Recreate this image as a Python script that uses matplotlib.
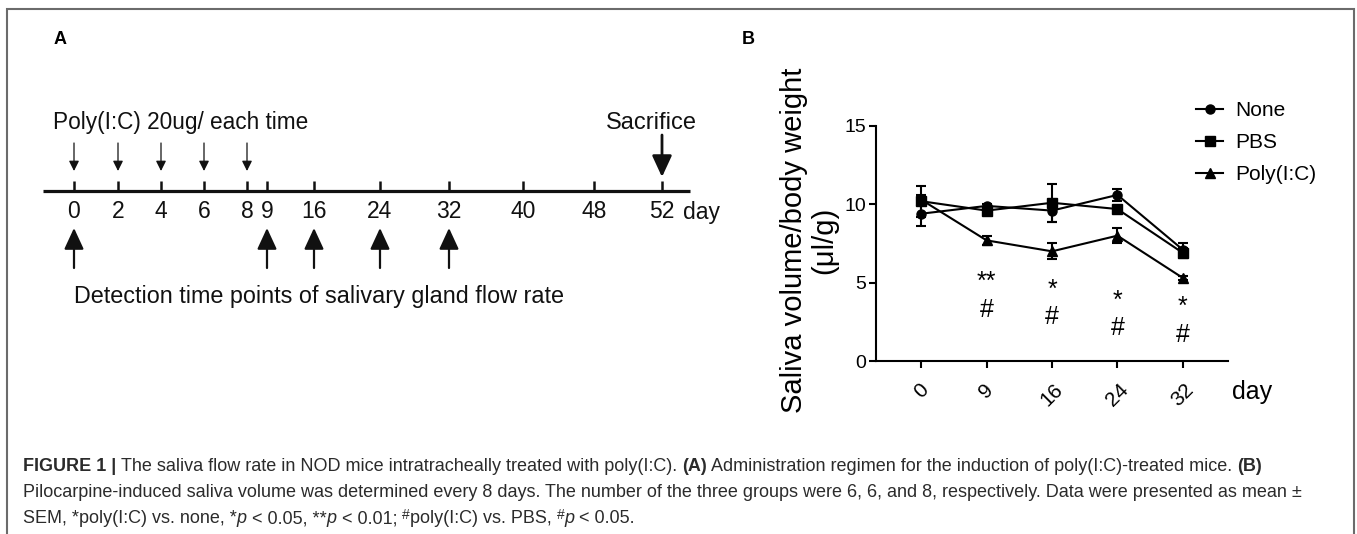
"""Figure 1: poly(I:C) regimen timeline (A) and saliva flow per body weight (B)."""
import numpy as np
import matplotlib
matplotlib.use('Agg')
import matplotlib.pyplot as plt

plt.rcParams.update({'font.family': ['Liberation Sans', 'DejaVu Sans'], 'figure.dpi': 100,
                     'axes.spines.top': False, 'axes.spines.right': False})
W, H = 1357, 534

# ---- panel A: schedule ----
timeline_days = [0, 2, 4, 6, 8, 9, 16, 24, 32, 40, 48, 52]
injection_days = [0, 2, 4, 6, 8]
detection_days = [0, 9, 16, 24, 32]
sacrifice_day = 52
# schematic (not to scale) horizontal placement of each day on the drawn timeline
timeline_x = [74, 118, 161, 204, 247, 267, 314, 380, 449, 523, 594, 662]

# ---- panel B: saliva volume / body weight (ul/g), mean +- SEM ----
days = ['0', '9', '16', '24', '32']
none_mean = [9.4, 9.9, 9.6, 10.6, 7.1]
none_sem = [0.8, 0.15, 0.7, 0.4, 0.4]
pbs_mean = [10.2, 9.6, 10.1, 9.7, 6.9]
pbs_sem = [1.0, 0.2, 1.2, 0.2, 0.3]
polyic_mean = [10.3, 7.7, 7.0, 8.0, 5.3]
polyic_sem = [0.3, 0.3, 0.5, 0.5, 0.15]
sig_idx = [1, 2, 3, 4]
sig_star = ['**', '*', '*', '*']   # poly(I:C) vs none
hash_y = [3.4, 2.9, 2.2, 1.8]      # '#' (poly(I:C) vs PBS) sits under the stars

fig = plt.figure(figsize=(W / 100, H / 100), dpi=100)
ov = fig.add_axes([0, 0, 1, 1])
ov.set_xlim(0, W); ov.set_ylim(H, 0); ov.axis('off')

# outer frame
ov.plot([7, 7, 1354, 1354], [H, 9, 9, H], color='#6b6b6b', lw=1.5, solid_joinstyle='miter')

# panel letters
ov.text(60, 39, 'A', fontsize=13, fontweight='bold', ha='center', va='center')
ov.text(748, 39, 'B', fontsize=13, fontweight='bold', ha='center', va='center')

# timeline
INK = '#111111'
xmap = dict(zip(timeline_days, timeline_x))
ov.plot([43, 690], [191, 191], color=INK, lw=2.3, solid_capstyle='butt')
for d in timeline_days:
    ov.plot([xmap[d], xmap[d]], [181, 191], color=INK, lw=1.8, solid_capstyle='butt')
    ov.text(xmap[d], 212, str(d), fontsize=16.5, ha='center', va='center', color=INK)
ov.text(683, 212, 'day', fontsize=16.5, ha='left', va='center', color=INK)

for d in injection_days:
    ov.annotate('', xy=(xmap[d], 171), xytext=(xmap[d], 143),
                arrowprops=dict(arrowstyle='-|>,head_length=0.6,head_width=0.3', lw=0.9,
                                color=INK, shrinkA=0, shrinkB=0, mutation_scale=10))
ov.text(53, 123, 'Poly(I:C) 20ug/ each time', fontsize=16.3, ha='left', va='center', color=INK)

ov.annotate('', xy=(xmap[sacrifice_day], 177), xytext=(xmap[sacrifice_day], 135),
            arrowprops=dict(arrowstyle='-|>,head_length=0.65,head_width=0.3', lw=2,
                            color=INK, shrinkA=0, shrinkB=0, mutation_scale=20))
ov.text(651, 123, 'Sacrifice', fontsize=17, ha='center', va='center', color=INK)

for d in detection_days:
    ov.annotate('', xy=(xmap[d], 228), xytext=(xmap[d], 268),
                arrowprops=dict(arrowstyle='-|>,head_length=0.65,head_width=0.3', lw=1.6,
                                color=INK, shrinkA=0, shrinkB=0, mutation_scale=20))
ov.text(74, 296, 'Detection time points of salivary gland flow rate',
        fontsize=16.8, ha='left', va='center', color=INK)

# ---- panel B axes ----
x0, x1, yb, yt = 876, 1228, 361, 126
ax = fig.add_axes([x0 / W, 1 - yb / H, (x1 - x0) / W, (yb - yt) / H])
ax.patch.set_alpha(0)
xi = np.arange(len(days))
handles = []
for m, s, mk, lab in [(none_mean, none_sem, 'o', 'None'),
                      (pbs_mean, pbs_sem, 's', 'PBS'),
                      (polyic_mean, polyic_sem, '^', 'Poly(I:C)')]:
    eb = ax.errorbar(xi, m, yerr=s, fmt='-' + mk, color='black', ms=6.5, lw=1.5,
                     elinewidth=1.5, capsize=3.5, capthick=1.5, label=lab, zorder=3)
    handles.append(eb[0])
for i, st, hy in zip(sig_idx, sig_star, hash_y):
    ax.annotate(st + '\n#', (xi[i], hy), xytext=(0, -10), textcoords='offset points',
                fontsize=18, ha='center', va='bottom', multialignment='center', linespacing=1.2)

ax.set_xlim(-0.69, 4.69); ax.set_ylim(0, 15)
ax.set_yticks([0, 5, 10, 15])
ax.set_xticks(xi, days, rotation=45, ha='center', fontsize=15)
ax.tick_params(axis='y', labelsize=14, length=5, width=1.5, pad=2)
ax.tick_params(axis='x', length=5, width=1.5, pad=9)
for sp in ['left', 'bottom']:
    ax.spines[sp].set_linewidth(1.5)
ax.text(1.011, -0.132, 'day', transform=ax.transAxes, fontsize=18, ha='left', va='center')
ax.set_ylabel('Saliva volume/body weight\n(\u03bcl/g)', fontsize=21, linespacing=1.1)
ax.yaxis.set_label_coords(-0.108, 0.515)
ax.legend(handles, ['None', 'PBS', 'Poly(I:C)'], loc='upper left',
          bbox_to_anchor=(1196 / W, 1 - 101 / H), bbox_transform=fig.transFigure,
          frameon=False, fontsize=15, handlelength=1.3, handletextpad=0.6,
          labelspacing=0.62, borderpad=0, borderaxespad=0)

# ---- caption ----
r = fig.canvas.get_renderer()
CAP = dict(fontsize=13, color='#2b2b2b', va='baseline', ha='left')

def adv(s, kw):
    t = ov.text(0, 0, s + '|', **kw); w1 = t.get_window_extent(r).width; t.remove()
    t = ov.text(0, 0, '|', **kw); w2 = t.get_window_extent(r).width; t.remove()
    return w1 - w2

def runs(y, parts, x=23):
    for s, extra in parts:
        kw = dict(CAP); kw.update(extra)
        dy = kw.pop('dy', 0)
        ov.text(x, y - dy, s, **kw)
        x += adv(s, kw)

B, I, SUP = {'fontweight': 'bold'}, {'style': 'italic'}, {'fontsize': 10, 'dy': 4}
runs(471, [('FIGURE 1 | ', B), ('The saliva flow rate in NOD mice intratracheally treated with poly(I:C). ', {}),
           ('(A)', B), (' Administration regimen for the induction of poly(I:C)-treated mice. ', {}), ('(B)', B)])
runs(497, [('Pilocarpine-induced saliva volume was determined every 8 days. The number of the three groups '
            'were 6, 6, and 8, respectively. Data were presented as mean \u00b1', {})])
runs(523, [('SEM, *poly(I:C) vs. none, *', {}), ('p', I), (' < 0.05, **', {}), ('p', I), (' < 0.01; ', {}),
           ('#', SUP), ('poly(I:C) vs. PBS, ', {}), ('#', SUP), ('p', I), (' < 0.05.', {})])

fig.savefig('out.png', dpi=100)
